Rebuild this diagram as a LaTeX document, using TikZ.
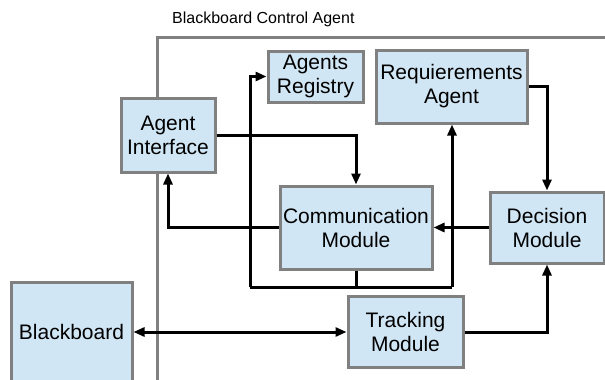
\documentclass[tikz,border=0pt]{standalone}
\usepackage{fontspec}
\setmainfont{Liberation Sans}
\usetikzlibrary{arrows.meta}
\definecolor{boxfill}{RGB}{208,230,244}
\definecolor{boxline}{RGB}{128,128,128}
\begin{document}
\begin{tikzpicture}[x=1pt,y=-1pt,
  blk/.style={draw=boxline,line width=3pt,fill=boxfill,inner sep=0pt,align=center,
    font=\fontsize{21}{24}\selectfont},
  conn/.style={line width=3pt,black},
  tip/.style={-{Triangle[length=11pt,width=9pt]}},
  frame/.style={draw=boxline,line width=3pt}]
\useasboundingbox (0,0) rectangle (605,380);
\node[anchor=base west,font=\fontsize{16}{19}\selectfont,inner sep=0pt] (title) at (172,23.5) {Blackboard Control Agent};
\coordinate (fbot) at (157,390);
\coordinate (fcorner) at (157,37);
\coordinate (fright) at (615,37);
\draw[frame] (fbot) -- (fcorner) -- (fright);
\node[blk,minimum width=94pt,minimum height=74pt] (ai) at (168,135) {Agent\\Interface};
\node[blk,minimum width=95pt,minimum height=51pt] (reg) at (315.5,76.5) {Agents\\Registry};
\node[blk,minimum width=151pt,minimum height=73pt] (req) at (451.5,86.5) {Requierements\\Agent};
\node[blk,minimum width=152pt,minimum height=83pt] (comm) at (356,227.5) {Communication\\Module};
\node[blk,minimum width=114pt,minimum height=71pt] (dec) at (547,227.5) {Decision\\Module};
\node[blk,minimum width=115pt,minimum height=71pt] (trk) at (405.5,332) {Tracking\\Module};
\node[blk,minimum width=121pt,minimum height=100pt] (bb) at (71.5,332) {Blackboard};
\coordinate (busL) at (250,287);
\coordinate (busM) at (356,287);
\coordinate (busR) at (452,287);
\draw[conn,tip] (ai.east) -| (comm.north);
\draw[conn,tip] (comm.west) -| (ai.south);
\draw[conn,tip] (dec.west) -- (comm.east);
\draw[conn,tip] (req.east) -| (dec.north);
\draw[conn,tip] (trk.east) -| (dec.south);
\draw[conn,{Triangle[length=11pt,width=9pt]}-{Triangle[length=11pt,width=9pt]}] (bb.east) -- (trk.west);
\draw[conn] (comm.south) -- (busM);
\draw[conn] (busL) -- (busR);
\draw[conn,tip] (busL) |- (reg.west);
\draw[conn,tip] (busR) -- (busR |- req.south);
\end{tikzpicture}
\end{document}
